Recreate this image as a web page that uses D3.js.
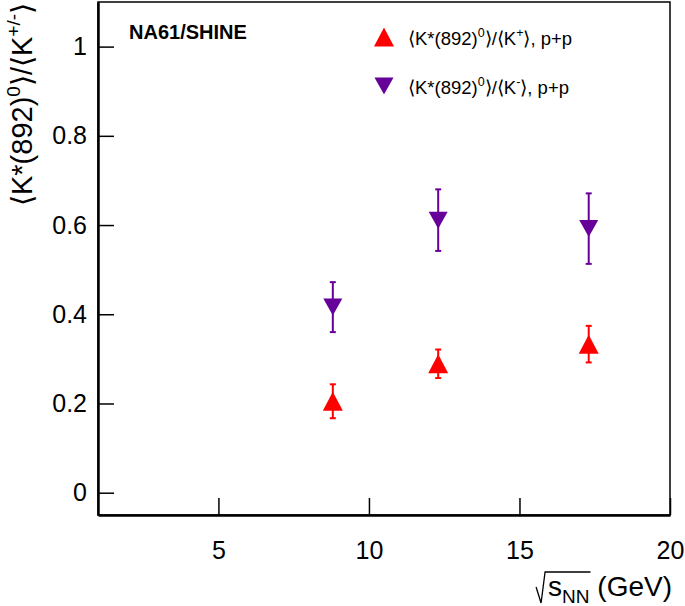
<!DOCTYPE html>
<html><head><meta charset="utf-8">
<script src="https://cdn.jsdelivr.net/npm/d3@7"></script>
<style>body{margin:0;background:#fff}svg{display:block;font-family:"Liberation Sans",Arial,sans-serif}</style>
</head><body><svg id="c" width="685" height="606"></svg>
<script>
const energies = [8.8, 12.3, 17.3];
const ratioKplus = [0.205, 0.289, 0.333];
const errKplus = [0.038, 0.032, 0.041];
const ratioKminus = [0.416, 0.611, 0.592];
const errKminus = [0.056, 0.069, 0.079];
const xTicks = [5, 10, 15, 20];
const yTicks = [0, 0.2, 0.4, 0.6, 0.8, 1];

const svg = d3.select("#c");
const L = 98, R = 670, T = 2, B = 515;
const x = d3.scaleLinear().domain([1, 20]).range([L, R]);
const y = d3.scaleLinear().domain([-0.05, 1.1]).range([B, T]);

// frame
svg.append("rect").attr("x", L).attr("y", T).attr("width", R - L).attr("height", B - T)
  .attr("fill", "none").attr("stroke", "#000").attr("stroke-width", 1.5);

const gx = svg.append("g").attr("transform", `translate(0,${B})`)
  .call(d3.axisBottom(x).tickValues(xTicks).tickFormat(d3.format("d")).tickSizeInner(-17).tickSizeOuter(0).tickPadding(26));
const gy = svg.append("g").attr("transform", `translate(${L},0)`)
  .call(d3.axisLeft(y).tickValues(yTicks).tickFormat(d => d === 0 ? "0" : d === 1 ? "1" : d3.format(".1f")(d)).tickSizeInner(-16).tickSizeOuter(0).tickPadding(6));
[gx, gy].forEach(g => {
  g.select(".domain").attr("stroke", "#000").attr("stroke-width", 2.5);
  g.selectAll(".tick line").attr("stroke", "#000").attr("stroke-width", 1.5);
  g.selectAll(".tick text").attr("font-size", 25).attr("fill", "#000").attr("font-family", "Liberation Sans, Arial, sans-serif");
});
gy.selectAll(".tick text").attr("dx", "-5");

function tri(cx, cy, w, h, up) {
  const hw = w / 2, hh = h / 2;
  return up ? `M${cx},${cy - hh}L${cx + hw},${cy + hh}L${cx - hw},${cy + hh}Z`
            : `M${cx},${cy + hh}L${cx + hw},${cy - hh}L${cx - hw},${cy - hh}Z`;
}

function series(vals, errs, color, up) {
  const g = svg.append("g");
  energies.forEach((e, i) => {
    const cx = x(e), y1 = y(vals[i] + errs[i]), y0 = y(vals[i] - errs[i]);
    g.append("line").attr("x1", cx).attr("x2", cx).attr("y1", y1).attr("y2", y0).attr("stroke", color).attr("stroke-width", 2);
    [y1, y0].forEach(yy => g.append("line").attr("x1", cx - 3).attr("x2", cx + 3).attr("y1", yy).attr("y2", yy).attr("stroke", color).attr("stroke-width", 2));
    g.append("path").attr("d", tri(cx, y(vals[i]), up ? 20 : 19, up ? 19 : 17, up)).attr("fill", color);
  });
}
const red = "#ff0000", purple = "#660099";
series(ratioKplus, errKplus, red, true);
series(ratioKminus, errKminus, purple, false);

// NA61/SHINE
svg.append("text").attr("x", 129).attr("y", 39).attr("font-size", 20).attr("font-weight", "bold").text("NA61/SHINE");

// legend
const legend = [
  {label: "K", sup: "+", color: red, up: true, y: 37},
  {label: "K", sup: "-", color: purple, up: false, y: 86}
];
legend.forEach(d => {
  svg.append("path").attr("d", tri(384, d.y, d.up ? 20 : 19, d.up ? 19 : 17, d.up)).attr("fill", d.color);
  const t = svg.append("text").attr("x", 408).attr("y", d.y + 8).attr("font-size", 18.5);
  t.append("tspan").text("\u27E8K*(892)");
  t.append("tspan").attr("dy", -8).attr("font-size", 12.5).text("0");
  t.append("tspan").attr("dy", 8).text("\u27E9/\u27E8" + d.label);
  t.append("tspan").attr("dy", -8).attr("font-size", 12.5).text(d.sup);
  t.append("tspan").attr("dy", 8).text("\u27E9, p+p");
});

// y title
const yt = svg.append("text").attr("transform", "translate(32,3) rotate(-90)").attr("text-anchor", "end").attr("font-size", 29);
yt.append("tspan").text("\u27E8K*(892)");
yt.append("tspan").attr("dy", -12).attr("font-size", 19).text("0");
yt.append("tspan").attr("dy", 12).text("\u27E9/\u27E8K");
yt.append("tspan").attr("dy", -12).attr("font-size", 19).text("+/-");
yt.append("tspan").attr("dy", 12).text("\u27E9");

// x title
const xt = svg.append("text").attr("x", 672).attr("y", 596).attr("text-anchor", "end").attr("font-size", 28);
const ts = xt.append("tspan").text("s");
const tn = xt.append("tspan").attr("dy", 7).attr("font-size", 19).text("NN");
xt.append("tspan").attr("dy", -7).text(" (GeV)");
const bb = xt.node().getBBox();
const sx = bb.x;
const radW = ts.node().getComputedTextLength() + tn.node().getComputedTextLength();
svg.append("path")
  .attr("d", `M${sx - 12},${587}L${sx - 7},${603}L${sx - 3},${572}L${sx + radW + 1},${572}`)
  .attr("fill", "none").attr("stroke", "#000").attr("stroke-width", 1.3);
</script></body></html>
